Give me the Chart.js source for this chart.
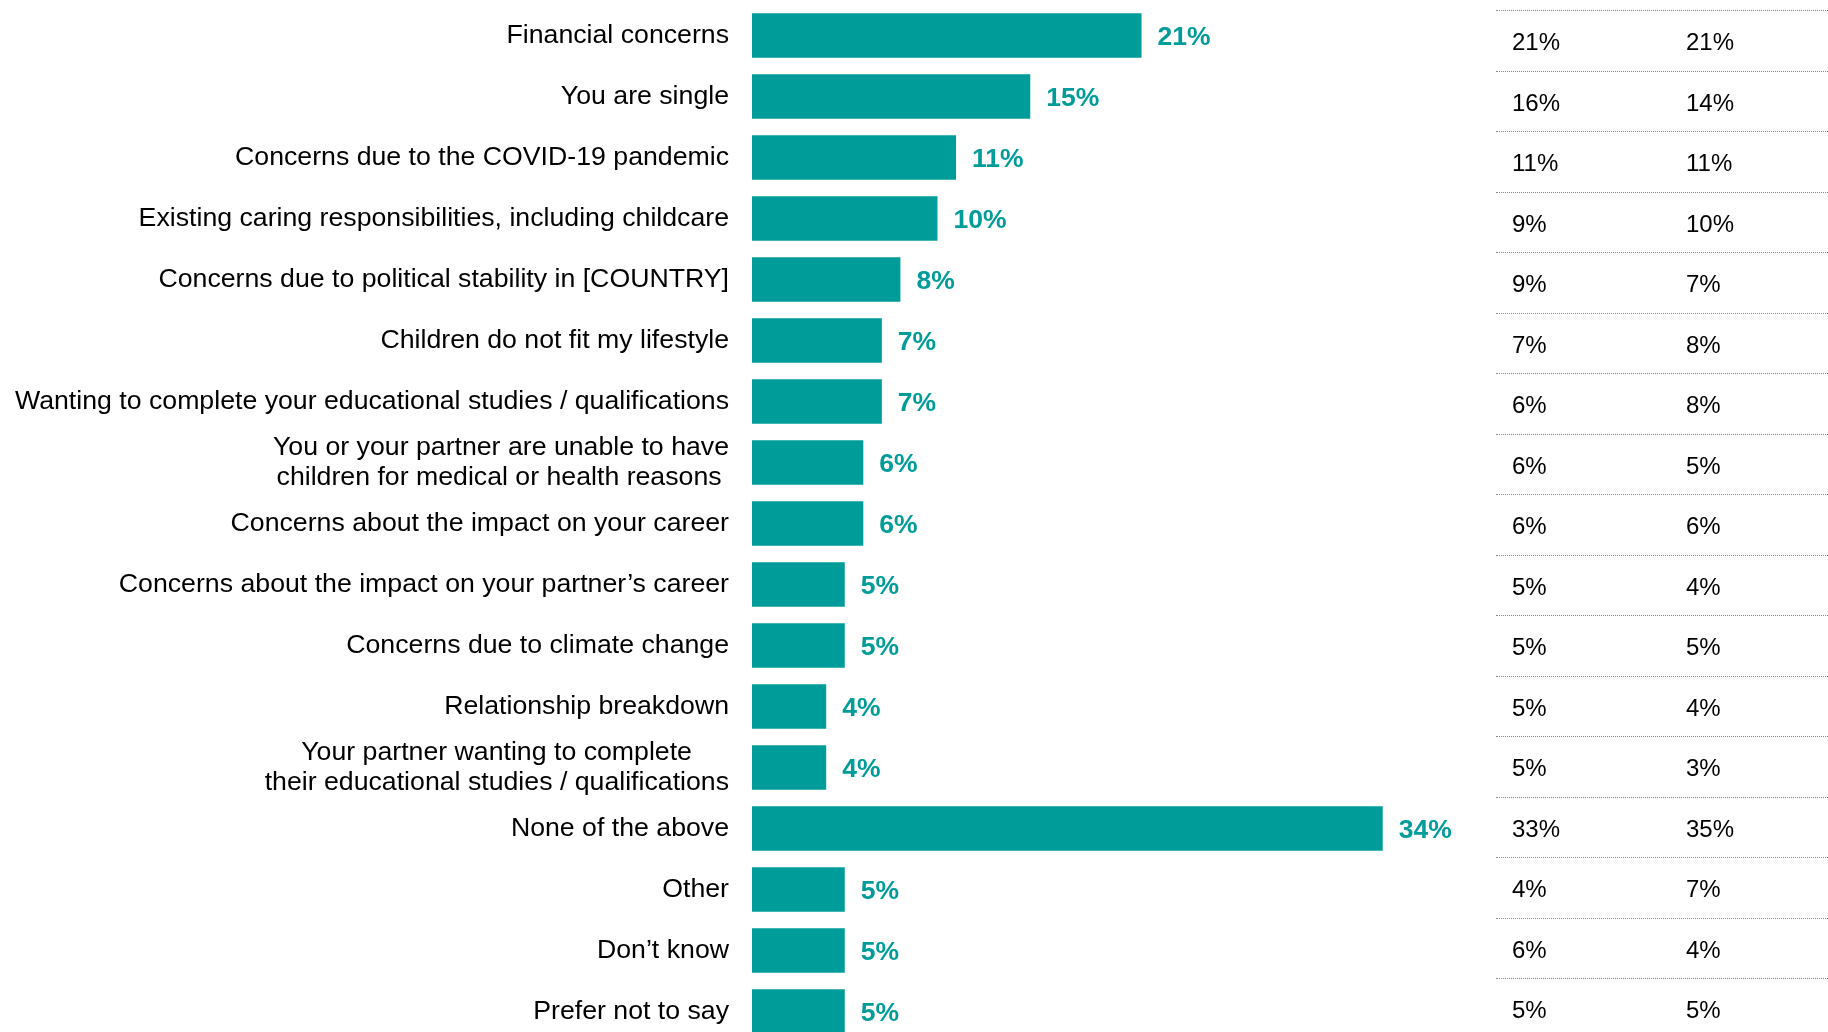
<!DOCTYPE html>
<html>
<head>
<meta charset="utf-8">
<title>Reasons for not having children</title>
<script src="https://cdn.jsdelivr.net/npm/chart.js@4.4.0/dist/chart.umd.min.js"></script>
<style>
  html, body { margin: 0; padding: 0; background: #fff; overflow: hidden; }
  #wrap { position: relative; width: 1828px; height: 1045px; }
  #table {
    position: absolute; left: 1496px; top: 10px; width: 332px;
    font: 24px "Liberation Sans", Arial, sans-serif; color: #000;
  }
  .row { position: relative; height: 60.5px; box-sizing: border-box; border-top: 1px dotted #8a8a8a; }
  .row span { position: absolute; top: 19px; line-height: 24px; }
  .row .a { left: 16px; }
  .row .b { left: 190px; }
</style>
</head>
<body>
<div id="wrap">
  <canvas id="myChart" width="1828" height="1045"></canvas>
  <div id="table"></div>
</div>
<script>
// Category labels (multi-line ones padded so the lines sit centred like the original)
const categories = [
  "Financial concerns",
  "You are single",
  "Concerns due to the COVID-19 pandemic",
  "Existing caring responsibilities, including childcare",
  "Concerns due to political stability in [COUNTRY]",
  "Children do not fit my lifestyle",
  "Wanting to complete your educational studies / qualifications",
  ["You or your partner are unable to have", "children for medical or health reasons "],
  "Concerns about the impact on your career",
  "Concerns about the impact on your partner\u2019s career",
  "Concerns due to climate change",
  "Relationship breakdown",
  ["Your partner wanting to complete     ", "their educational studies / qualifications"],
  "None of the above",
  "Other",
  "Don\u2019t know",
  "Prefer not to say",
];

// Total, shown as bars
const totalValues = [21, 15, 11, 10, 8, 7, 7, 6, 6, 5, 5, 4, 4, 34, 5, 5, 5];

// The two sub-group columns on the right
const columnA = [21, 16, 11, 9, 9, 7, 6, 6, 6, 5, 5, 5, 5, 33, 4, 6, 5];
const columnB = [21, 14, 11, 10, 7, 8, 8, 5, 6, 4, 5, 4, 3, 35, 7, 4, 5];

const teal = "#009c9a";
const fontFamily = '"Liberation Sans", Arial, Helvetica, sans-serif';

// build the right hand table from the columns
const table = document.getElementById("table");
columnA.forEach((v, i) => {
  const row = document.createElement("div");
  row.className = "row";
  row.innerHTML = `<span class="a">${v}%</span><span class="b">${columnB[i]}%</span>`;
  table.appendChild(row);
});

// Draw the bold value next to each bar
const valueLabels = {
  id: "valueLabels",
  afterDatasetsDraw(chart) {
    const c = chart.ctx;
    const meta = chart.getDatasetMeta(0);
    c.save();
    c.font = "bold 26.5px " + fontFamily;
    c.fillStyle = teal;
    c.textAlign = "left";
    c.textBaseline = "middle";
    meta.data.forEach((bar, i) => {
      c.fillText(totalValues[i] + "%", bar.x + 16, bar.y + 2);
    });
    c.restore();
  },
};

const ctx = document.getElementById("myChart");

new Chart(ctx, {
  type: "bar",
  data: {
    labels: categories,
    datasets: [
      {
        data: totalValues,
        backgroundColor: teal,
        barPercentage: 0.73,
        categoryPercentage: 1,
      },
    ],
  },
  options: {
    indexAxis: "y",
    responsive: false,
    animation: false,
    layout: { padding: { top: 5, right: 334, bottom: 3, left: 0 } },
    plugins: {
      legend: { display: false },
      tooltip: { enabled: false },
    },
    scales: {
      x: { display: false, min: 0, max: 40 },
      y: {
        grid: { display: false, drawTicks: false },
        border: { display: false },
        ticks: {
          color: "#000",
          padding: 23,
          autoSkip: false,
          font: { family: fontFamily, size: 26.7, lineHeight: 1.1 },
        },
        afterFit(scale) {
          // fixed label column, and no extra room above/below the rows
          scale.width = 752;
          scale.paddingTop = 0;
          scale.paddingBottom = 0;
        },
      },
    },
  },
  plugins: [valueLabels],
});
</script>
</body>
</html>
